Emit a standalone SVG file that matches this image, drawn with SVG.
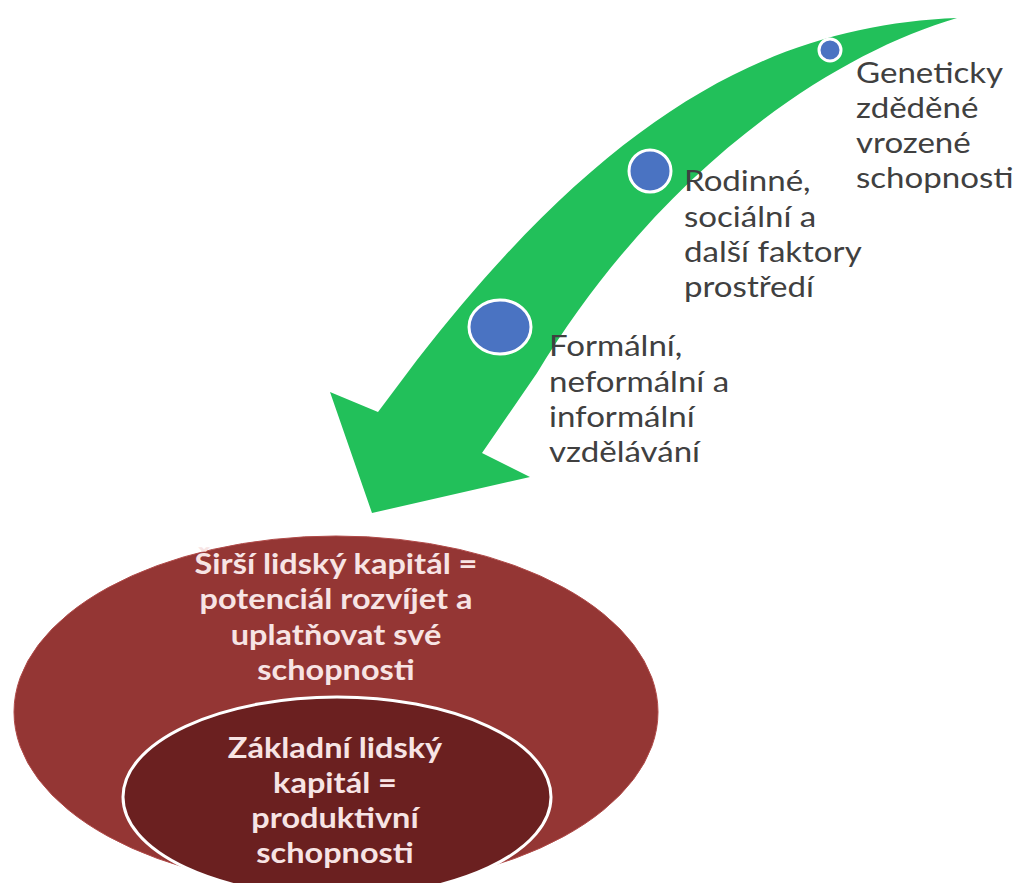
<svg xmlns="http://www.w3.org/2000/svg" width="1016" height="883" viewBox="0 0 1016 883">
<style>
.lbl{font-family:Lato,"Liberation Sans",sans-serif;font-size:29px;fill:#404040}
.el{font-family:Lato,"Liberation Sans",sans-serif;font-size:29px;font-weight:bold;fill:#f7e4e4;text-anchor:middle}
.dot{fill:#4a73c2;stroke:#ffffff;stroke-width:3}
</style>
<rect width="1016" height="883" fill="#ffffff"/>
<g id="outer">
<ellipse cx="336" cy="712" rx="322" ry="176" fill="#943634" stroke="#b04a48" stroke-width="1"/>
<g transform="translate(336,0) scale(1.12,1)">
<text class="el" x="0" y="574">Širší lidský kapitál =</text>
<text class="el" x="0" y="609">potenciál rozvíjet a</text>
<text class="el" x="0" y="645">uplatňovat své</text>
<text class="el" x="0" y="680">schopnosti</text>
</g>
</g>
<g id="inner">
<ellipse cx="337" cy="797" rx="214" ry="100" fill="#6b2020" stroke="#ffffff" stroke-width="3"/>
<g transform="translate(335,0) scale(1.12,1)">
<text class="el" x="0" y="758">Základní lidský</text>
<text class="el" x="0" y="793">kapitál =</text>
<text class="el" x="0" y="828">produktivní</text>
<text class="el" x="0" y="863">schopnosti</text>
</g>
</g>
<g id="connectors">
<path id="arrow" d="M957,18 C780,25 615,105 417,360 L378,412 L330,392 L372,513 L530,477 L482,453 L537,373 C660,170 830,55 957,18 Z" fill="#22c05a"/>
</g>
<g id="n1">
<circle class="dot" cx="830" cy="50" r="11"/>
<g transform="translate(856,0) scale(1.14,1)">
<text class="lbl" x="0" y="83">Geneticky</text>
<text class="lbl" x="0" y="118">zděděné</text>
<text class="lbl" x="0" y="153">vrozené</text>
<text class="lbl" x="0" y="188">schopnosti</text>
</g>
</g>
<g id="n2">
<circle class="dot" cx="650" cy="171" r="21"/>
<g transform="translate(684,0) scale(1.14,1)">
<text class="lbl" x="0" y="191">Rodinné,</text>
<text class="lbl" x="0" y="227">sociální a</text>
<text class="lbl" x="0" y="262">další faktory</text>
<text class="lbl" x="0" y="297">prostředí</text>
</g>
</g>
<g id="n3">
<ellipse class="dot" cx="500" cy="327" rx="31" ry="27"/>
<g transform="translate(549,0) scale(1.14,1)">
<text class="lbl" x="0" y="356">Formální,</text>
<text class="lbl" x="0" y="392">neformální a</text>
<text class="lbl" x="0" y="427">informální</text>
<text class="lbl" x="0" y="462">vzdělávání</text>
</g>
</g>
</svg>
